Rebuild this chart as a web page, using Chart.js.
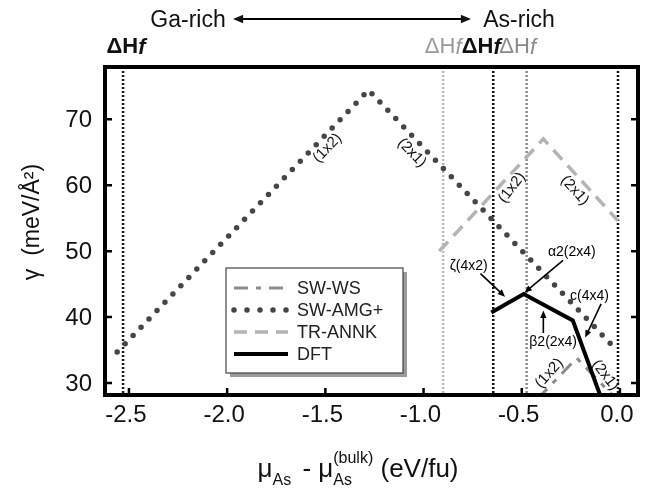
<!DOCTYPE html>
<html>
<head>
<meta charset="utf-8">
<script src="https://cdn.jsdelivr.net/npm/chart.js@4.4.1/dist/chart.umd.min.js"></script>
<style>
  html, body { margin: 0; padding: 0; background: #fff; }
</style>
</head>
<body>
<canvas id="chart" width="645" height="495"></canvas>
<script>
'use strict';

// surface energy vs As chemical potential (eV/fu, meV/Å^2)
const swwsX = [-0.42, -0.22, -0.02];
const swwsY = [27.6, 33.8, 27.6];
const amgX = [-2.56, -1.28, -0.01];
const amgY = [34.7, 74.4, 34.8];
const annkX = [-0.92, -0.39, -0.01];
const annkY = [50.0, 67.0, 54.6];
const dftX = [-0.655, -0.49, -0.24, -0.095];
const dftY = [40.7, 43.5, 39.5, 27.7];

// formation enthalpy limits (ΔHf) of each model
const deltaHf = [-2.53, -0.90, -0.645, -0.475, -0.01];

const xTicks = [-2.5, -2.0, -1.5, -1.0, -0.5, 0.0];
const xTickLabels = ['-2.5', '-2.0', '-1.5', '-1.0', '-0.5', '0.0'];
const yTicks = [30, 40, 50, 60, 70];
const yTickLabels = ['30', '40', '50', '60', '70'];

const FONT = '"Liberation Sans", Arial, sans-serif';

const pts = (xs, ys) => xs.map((x, i) => ({ x: x, y: ys[i] }));

// styles for the ΔHf lines and their labels
const hfStyle = [
    { color: '#1a1a1a', text: '#111', label: true, dx: 3, bold: true },
    { color: '#b8b8b8', text: '#9a9a9a', label: true, dx: 0, bold: false },
    { color: '#111111', text: '#111', label: true, dx: -12, bold: true },
    { color: '#8a8a8a', text: '#8a8a8a', label: true, dx: -9, bold: false },
    { color: '#111111', label: false }
];

// surface reconstruction labels along the lines
const lineLabels = [
    { text: '(1x2)', x: -1.49, y: 65.6, angle: -46 },
    { text: '(2x1)', x: -1.06, y: 64.9, angle: 46 },
    { text: '(1x2)', x: -0.55, y: 59.6, angle: -52 },
    { text: '(2x1)', x: -0.23, y: 59.2, angle: 48 },
    { text: '(1x2)', x: -0.36, y: 31.5, angle: -48 },
    { text: '(2x1)', x: -0.075, y: 31.2, angle: 52 }
];

// DFT reconstruction labels with arrows
const arrowLabels = [
    { text: 'ζ(4x2)', x: -0.77, y: 47.8, from: [-0.71, 46.6], to: [-0.585, 43.1] },
    { text: 'α2(2x4)', x: -0.245, y: 49.9, from: [-0.29, 48.6], to: [-0.486, 43.7] },
    { text: 'β2(2x4)', x: -0.34, y: 36.2, from: [-0.39, 37.6], to: [-0.39, 41.0] },
    { text: 'c(4x4)', x: -0.155, y: 43.2, from: [-0.096, 42.0], to: [-0.177, 36.9] }
];

function arrow(ctx, x1, y1, x2, y2, head) {
    const ang = Math.atan2(y2 - y1, x2 - x1);
    ctx.beginPath();
    ctx.moveTo(x1, y1);
    ctx.lineTo(x2 - Math.cos(ang) * head * 0.6, y2 - Math.sin(ang) * head * 0.6);
    ctx.stroke();
    ctx.beginPath();
    ctx.moveTo(x2, y2);
    ctx.lineTo(x2 - head * Math.cos(ang - 0.4), y2 - head * Math.sin(ang - 0.4));
    ctx.lineTo(x2 - head * Math.cos(ang + 0.4), y2 - head * Math.sin(ang + 0.4));
    ctx.closePath();
    ctx.fill();
}

function drawHf(ctx, cx, base, color, bold) {
    const w = bold ? 'bold ' : '';
    ctx.fillStyle = color;
    ctx.font = w + '22px ' + FONT;
    const w1 = ctx.measureText('ΔH').width;
    ctx.font = 'italic ' + w + '22px ' + FONT;
    const w2 = ctx.measureText('f').width;
    const x = cx - (w1 + w2) / 2;
    ctx.textAlign = 'left';
    ctx.textBaseline = 'alphabetic';
    ctx.font = w + '22px ' + FONT;
    ctx.fillText('ΔH', x, base);
    ctx.font = 'italic ' + w + '22px ' + FONT;
    ctx.fillText('f', x + w1, base + 1);
}

const decor = {
    id: 'decor',
    beforeDatasetsDraw(chart) {
        const { ctx, chartArea: a, scales: { x } } = chart;
        ctx.save();
        ctx.beginPath();
        ctx.rect(a.left, a.top, a.width, a.height);
        ctx.clip();
        ctx.lineWidth = 2.5;
        ctx.setLineDash([2, 2]);
        deltaHf.forEach((v, i) => {
            const px = x.getPixelForValue(v);
            ctx.strokeStyle = hfStyle[i].color;
            ctx.beginPath();
            ctx.moveTo(px, a.top);
            ctx.lineTo(px, a.bottom);
            ctx.stroke();
        });
        ctx.restore();
    },
    afterDraw(chart) {
        const { ctx, chartArea: a, scales: { x, y } } = chart;
        ctx.save();

        // frame
        ctx.strokeStyle = '#000';
        ctx.lineWidth = 4;
        ctx.strokeRect(a.left, a.top, a.width, a.height);

        // inward ticks
        ctx.lineWidth = 2.5;
        xTicks.forEach(v => {
            const px = x.getPixelForValue(v);
            ctx.beginPath();
            ctx.moveTo(px, a.bottom);
            ctx.lineTo(px, a.bottom - 7);
            ctx.stroke();
        });
        yTicks.forEach(v => {
            const py = y.getPixelForValue(v);
            ctx.beginPath();
            ctx.moveTo(a.left, py);
            ctx.lineTo(a.left + 7, py);
            ctx.moveTo(a.right, py);
            ctx.lineTo(a.right - 7, py);
            ctx.stroke();
        });

        // tick labels
        ctx.fillStyle = '#111';
        ctx.font = '24px ' + FONT;
        ctx.textAlign = 'center';
        ctx.textBaseline = 'top';
        xTicks.forEach((v, i) => {
            ctx.fillText(xTickLabels[i], x.getPixelForValue(v) - 3, a.bottom + 8);
        });
        ctx.textAlign = 'right';
        ctx.textBaseline = 'middle';
        yTicks.forEach((v, i) => {
            ctx.fillText(yTickLabels[i], a.left - 13, y.getPixelForValue(v) + 1);
        });

        // y title
        ctx.save();
        ctx.translate(33, 222);
        ctx.rotate(-Math.PI / 2);
        ctx.textAlign = 'center';
        ctx.textBaseline = 'middle';
        ctx.font = '23px ' + FONT;
        ctx.fillText('γ  (meV/Å²)', 0, 0);
        ctx.restore();

        // x title: μAs - μAs(bulk) (eV/fu)
        const big = '26px ' + FONT;
        const small = '16px ' + FONT;
        const base = 477;
        ctx.textAlign = 'left';
        ctx.textBaseline = 'alphabetic';
        ctx.font = big;
        const wMu = ctx.measureText('μ').width;
        const wMinus = ctx.measureText(' - ').width;
        const wUnit = ctx.measureText(' (eV/fu)').width;
        ctx.font = small;
        const wAs = ctx.measureText('As').width;
        const wBulk = ctx.measureText('(bulk)').width;
        const total = wMu + wAs + 4 + wMinus + wMu + Math.max(wAs, wBulk) + wUnit;
        let cx = 358 - total / 2;
        ctx.font = big;
        ctx.fillText('μ', cx, base);
        cx += wMu;
        ctx.font = small;
        ctx.fillText('As', cx, base + 8);
        cx += wAs + 4;
        ctx.font = big;
        ctx.fillText(' - ', cx, base);
        cx += wMinus;
        ctx.fillText('μ', cx, base);
        cx += wMu;
        ctx.font = small;
        ctx.fillText('As', cx, base + 8);
        ctx.fillText('(bulk)', cx, base - 14);
        cx += Math.max(wAs, wBulk);
        ctx.font = big;
        ctx.fillText(' (eV/fu)', cx, base);

        // Ga-rich <-> As-rich
        ctx.font = '23px ' + FONT;
        ctx.textAlign = 'center';
        ctx.fillText('Ga-rich', 188, 27);
        ctx.fillText('As-rich', 519, 27);
        ctx.lineWidth = 2;
        arrow(ctx, 300, 19, 233, 19, 11);
        arrow(ctx, 300, 19, 471, 19, 11);

        // ΔHf labels
        deltaHf.forEach((v, i) => {
            const s = hfStyle[i];
            if (!s.label) return;
            drawHf(ctx, x.getPixelForValue(v) + s.dx, 53, s.text, s.bold);
        });

        // labels along lines
        ctx.fillStyle = '#111';
        ctx.font = '15px ' + FONT;
        ctx.textAlign = 'center';
        ctx.textBaseline = 'middle';
        lineLabels.forEach(l => {
            ctx.save();
            ctx.translate(x.getPixelForValue(l.x), y.getPixelForValue(l.y));
            ctx.rotate(l.angle * Math.PI / 180);
            ctx.fillText(l.text, 0, 0);
            ctx.restore();
        });

        // DFT labels with arrows
        ctx.font = '14px ' + FONT;
        ctx.lineWidth = 1.6;
        ctx.strokeStyle = '#000';
        ctx.fillStyle = '#000';
        arrowLabels.forEach(l => {
            ctx.fillText(l.text, x.getPixelForValue(l.x), y.getPixelForValue(l.y));
            arrow(ctx, x.getPixelForValue(l.from[0]), y.getPixelForValue(l.from[1]),
                x.getPixelForValue(l.to[0]), y.getPixelForValue(l.to[1]), 8);
        });

        // legend
        const lx = 226, ly = 268, lw = 177, lh = 105;
        ctx.fillStyle = '#9a9a9a';
        ctx.fillRect(lx + 4, ly + 4, lw, lh);
        ctx.fillStyle = '#fff';
        ctx.fillRect(lx, ly, lw, lh);
        ctx.strokeStyle = '#444';
        ctx.lineWidth = 1.2;
        ctx.strokeRect(lx, ly, lw, lh);
        ctx.font = '18px ' + FONT;
        ctx.textAlign = 'left';
        ctx.textBaseline = 'middle';
        chart.data.datasets.forEach((ds, i) => {
            const ry = ly + 20 + i * 22;
            ctx.strokeStyle = ds.borderColor;
            ctx.lineWidth = ds.borderWidth;
            ctx.lineCap = ds.borderCapStyle || 'butt';
            ctx.setLineDash(ds.legendDash || ds.borderDash || []);
            ctx.beginPath();
            ctx.moveTo(lx + 8, ry);
            ctx.lineTo(lx + 62, ry);
            ctx.stroke();
            ctx.setLineDash([]);
            ctx.lineCap = 'butt';
            ctx.fillStyle = '#222';
            ctx.fillText(ds.label, lx + 71, ry + 1);
        });

        ctx.restore();
    }
};

new Chart(document.getElementById('chart'), {
    type: 'line',
    data: {
        datasets: [{
            label: 'SW-WS',
            data: pts(swwsX, swwsY),
            borderColor: '#8c8c8c',
            borderWidth: 3,
            borderDash: [14, 8, 5, 8],
            order: 3
        }, {
            label: 'SW-AMG+',
            data: pts(amgX, amgY),
            borderColor: '#454545',
            borderWidth: 5.5,
            borderDash: [0, 11.5],
            legendDash: [0, 13],
            borderCapStyle: 'round',
            order: 2
        }, {
            label: 'TR-ANNK',
            data: pts(annkX, annkY),
            borderColor: '#b4b4b4',
            borderWidth: 3.5,
            borderDash: [13, 8],
            order: 1
        }, {
            label: 'DFT',
            data: pts(dftX, dftY),
            borderColor: '#000',
            borderWidth: 4,
            order: 0
        }]
    },
    options: {
        responsive: false,
        animation: false,
        layout: {
            padding: { left: 105, right: 7, top: 67, bottom: 100 }
        },
        elements: {
            point: { radius: 0 },
            line: { tension: 0, fill: false }
        },
        scales: {
            x: { type: 'linear', display: false, min: -2.622, max: 0.092 },
            y: { type: 'linear', display: false, min: 28.2, max: 77.9 }
        },
        plugins: {
            legend: { display: false },
            tooltip: { enabled: false }
        }
    },
    plugins: [decor]
});
</script>
</body>
</html>
